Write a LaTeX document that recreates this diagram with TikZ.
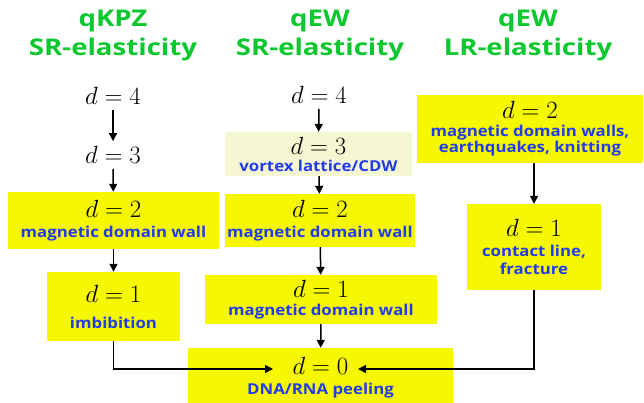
\documentclass[tikz,border=0pt]{standalone}
\usepackage[no-math]{fontspec}
\usetikzlibrary{arrows.meta}
\newfontfamily\labfont{Open Sans}[FakeStretch=1.12]
\newfontfamily\ttlfont{Open Sans}[FakeStretch=1.2]
\definecolor{tgreen}{RGB}{10,200,45}
\definecolor{tblue}{RGB}{35,60,235}
\definecolor{byellow}{RGB}{245,248,0}
\definecolor{bpale}{RGB}{245,247,210}
\tikzset{
  ttl/.style={font=\ttlfont\bfseries\fontsize{23}{29}\selectfont, text=tgreen, align=center, inner sep=0pt},
  dtext/.style={font=\fontsize{25}{26}\selectfont, inner sep=5pt},
  ybox/.style={fill=byellow, align=center, inner sep=0pt, font=\fontsize{25}{18}\selectfont},
  pbox/.style={ybox, fill=bpale},
  arr/.style={-{Triangle[length=8pt,width=8pt]}, line width=1.5pt},
}
\newcommand{\lbl}[1]{{\color{tblue}\labfont\bfseries\fontsize{15}{16}\selectfont #1}}
\begin{document}
\begin{tikzpicture}[x=1pt,y=-1pt]
\useasboundingbox (0,0) rectangle (644,402);
% titles
\node[ttl] (t1) at (113,36) {qKPZ\\SR-elasticity};
\node[ttl] (t2) at (320,36) {qEW\\SR-elasticity};
\node[ttl] (t3) at (528,36) {qEW\\LR-elasticity};
% column 1
\node[dtext] (a4) at (113,96) {$d=4$};
\node[dtext] (a3) at (113,155) {$d=3$};
\node[ybox, minimum width=211pt, minimum height=57pt] (a2) at (113.5,220.5) {$d=2$\\[2pt]\lbl{magnetic domain wall}};
\node[ybox, minimum width=133pt, minimum height=69pt] (a1) at (113.5,306.5) {$d=1$\\[8pt]\lbl{imbibition}};
% column 2
\node[dtext] (b4) at (319,95) {$d=4$};
\node[pbox, minimum width=187pt, minimum height=44pt] (b3) at (318.5,154) {$d=3$\\[-1pt]\lbl{vortex lattice/CDW}};
\node[ybox, minimum width=190pt, minimum height=53pt] (b2) at (320,220.5) {$d=2$\\[2pt]\lbl{magnetic domain wall}};
\node[ybox, minimum width=232pt, minimum height=49pt] (b1) at (321,299.5) {$d=1$\\[0pt]\lbl{magnetic domain wall}};
\node[ybox, minimum width=265pt, minimum height=60pt] (d0) at (320.5,378) {$d=0$\\[2pt]\lbl{DNA/RNA peeling}};
% column 3
\node[ybox, minimum width=226pt, minimum height=68pt] (c2) at (530,129) {$d=2$\\[0pt]\lbl{magnetic domain walls,}\\[-2pt]\lbl{earthquakes, knitting}};
\node[ybox, minimum width=134pt, minimum height=86pt] (c1) at (534,247) {$d=1$\\[2pt]\lbl{contact line,}\\[0pt]\lbl{fracture}};
% connectors
\coordinate (inL) at (273,369);
\coordinate (inR) at (358,369);
\draw[arr] (a4) -- (a3);
\draw[arr] (a3) -- (a2);
\draw[arr] (a2) -- (a1);
\draw[arr] (b4) -- (b3);
\draw[arr] (b3) -- (b2);
\draw[arr] (b2) -- (b1);
\draw[arr] (b1) -- (d0);
\draw[arr] (c2.south -| c1) -- (c1);
\draw[arr] (a1.south) |- (inL);
\draw[arr] (c1.south) |- (inR);
\end{tikzpicture}
\end{document}
